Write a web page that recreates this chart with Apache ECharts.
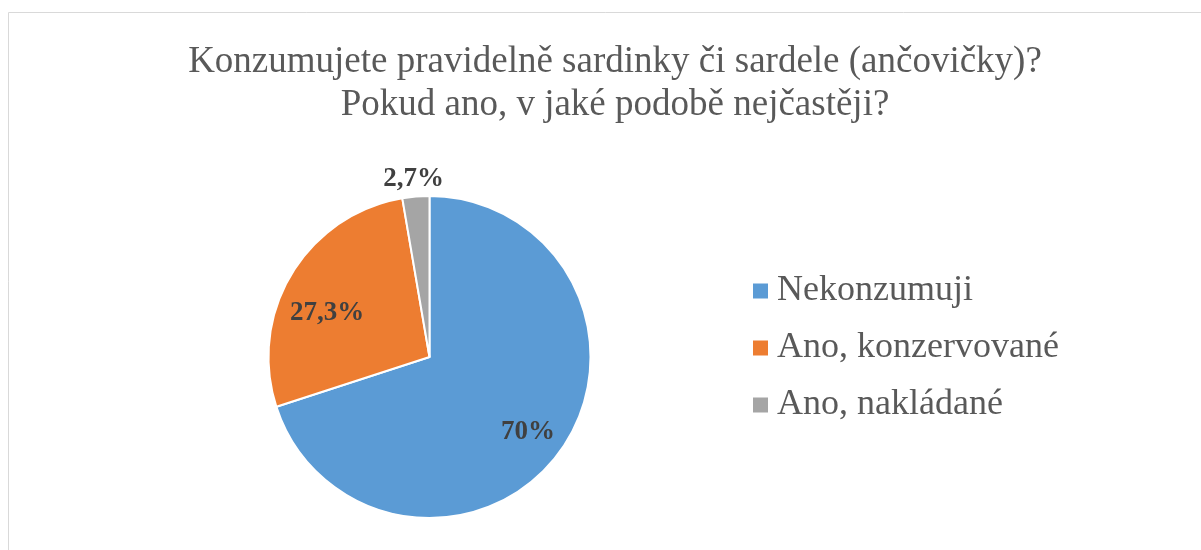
<!DOCTYPE html>
<html><head><meta charset="utf-8">
<script src="https://cdn.jsdelivr.net/npm/echarts@6/dist/echarts.min.js"></script>
<style>html,body{margin:0;padding:0;background:#fff}#c{width:1201px;height:550px}</style>
</head><body><div id="c"></div>
<script>
const categories = ['Nekonzumuji', 'Ano, konzervované', 'Ano, nakládané'];
const values = [70, 27.3, 2.7];
const labels = ['70%', '27,3%', '2,7%'];
const colors = ['#5b9bd5', '#ed7d31', '#a5a5a5'];

const chart = echarts.init(document.getElementById('c'));
const serif = '"Liberation Serif", "Times New Roman", serif';
const labelAdjust = [{dx: 31, dy: 26}, {dx: -31, dy: -1}, {align: 'center', dx: 4, dy: -2}];
chart.setOption({
  animation: false,
  graphic: [{type: 'rect', shape: {x: 8.5, y: 12.5, width: 1300, height: 700},
    style: {fill: 'none', stroke: '#d9d9d9', lineWidth: 1}, silent: true}],
  title: {
    text: 'Konzumujete pravidelně sardinky či sardele (ančovičky)?\nPokud ano, v jaké podobě nejčastěji?',
    left: 610, textAlign: 'center', top: 36,
    textStyle: {fontFamily: serif, fontSize: 37, fontWeight: 'normal', color: '#595959', lineHeight: 43}
  },
  legend: {
    orient: 'vertical', left: 746, top: 268,
    itemWidth: 17, itemHeight: 17, itemGap: 21, icon: 'rect',
    textStyle: {fontFamily: serif, fontSize: 36, lineHeight: 36, color: '#595959', padding: [0, 0, 0, 3]},
    data: categories
  },
  series: [{
    type: 'pie', center: [429.5, 357], radius: 161, startAngle: 90, clockwise: true,
    itemStyle: {borderColor: '#fff', borderWidth: 2},
    labelLine: {show: false, length: 16, length2: 0},
    labelLayout: function (p) { return labelAdjust[p.dataIndex]; },
    data: categories.map((n, i) => ({
      name: n, value: values[i], itemStyle: {color: colors[i]},
      label: {
        show: true, position: i < 2 ? 'inside' : 'outside',
        formatter: labels[i],
        fontFamily: serif, fontSize: 27, fontWeight: 'bold', color: '#404040'
      }
    }))
  }]
});
</script></body></html>
